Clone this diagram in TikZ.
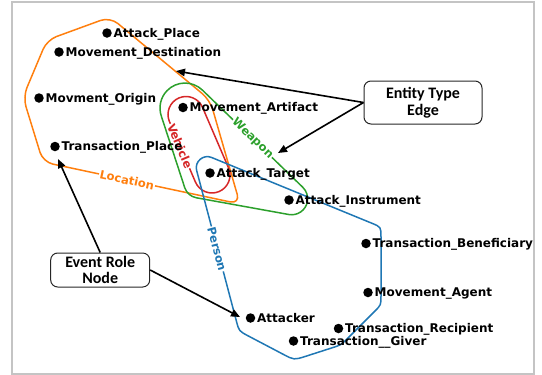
\documentclass[tikz,border=0pt]{standalone}
\usepackage{fontspec}
\setmainfont{DejaVu Sans}
\newfontfamily\boxfont{Carlito}
\usetikzlibrary{arrows.meta,calc}

\definecolor{tabblue}{HTML}{1F77B4}
\definecolor{taborange}{HTML}{FF7F0E}
\definecolor{tabgreen}{HTML}{2CA02C}
\definecolor{tabred}{HTML}{D62728}
\definecolor{framegray}{HTML}{C4C4C4}

\begin{document}
\begin{tikzpicture}[x=1pt,y=-1pt,
  role/.style={circle,fill=black,inner sep=0pt,minimum size=9.5pt},
  rolelabel/.style={anchor=base west,inner sep=0pt,font=\bfseries\fontsize{12}{13}\selectfont},
  group/.style={line width=1.5pt,line join=round},
  grouplabel/.style={fill=white,inner sep=0.8pt,font=\bfseries\fontsize{11.5}{12}\selectfont},
  callout/.style={draw=black!85,line width=1pt,rounded corners=7pt,align=center,inner sep=1pt,
    font=\boxfont\bfseries\fontsize{16}{16.5}\selectfont},
  pointer/.style={line width=1.6pt,-{Triangle[length=9pt,width=7.5pt]}}
]
\useasboundingbox (0,0) rectangle (542,375);
\draw[framegray,line width=1.3pt] (12,2) rectangle (534,374);

% Location group
\draw[group,taborange,rounded corners=10pt]
  (43,162) -- (23,97) -- (47,40) -- (110,17) -- (210,100) -- (240,204) -- cycle;
\node[grouplabel,text=taborange,rotate=-12] (loc) at (127,180) {Location};

% Weapon group (arc angles are page angles, y up)
\draw[group,tabgreen] (202.3,90) arc[start angle=46.2, end angle=198.2, radius=25pt]
  -- (184.75,187.7) arc[start angle=-161.8, end angle=-100.2, radius=15pt]
  -- (288.8,214.5) arc[start angle=-100.2, end angle=46.2, radius=16pt] -- cycle;
\node[grouplabel,text=tabgreen,rotate=-44] (wpn) at (252.5,138.5) {Weapon};

% Vehicle group: capsule around two centres, radius 18
\draw[group,tabred] (202.54,107.39) -- (228.54,167.89) arc[start angle=23.25, end angle=-156.75, radius=18pt]
  -- (169.46,121.61) arc[start angle=-156.75, end angle=-336.75, radius=18pt] -- cycle;
\node[grouplabel,text=tabred,rotate=-67] (veh) at (180,146) {Vehicle};

% Person group
\draw[group,tabblue] (211.4,157.4) -- (371.75,223.2) .. controls (381,227) .. (381,237)
  -- (381,296) .. controls (381,305) .. (374.6,311.4)
  -- (348.1,337.9) .. controls (341,345) .. (331.5,348)
  -- (305.4,356.4) .. controls (294,360) .. (283.4,354.4)
  -- (247.8,335.7) .. controls (239,331) .. (236.45,321.3)
  -- (196.6,170.3) .. controls (194.4,161.8) and (203.2,154) .. cycle;
\node[grouplabel,text=tabblue,rotate=-75] (per) at (217,249) {Person};

% role nodes
\node[role] (ap)  at (107,33)  {};
\node[role] (md)  at (59,52)   {};
\node[role] (mo)  at (39,98)   {};
\node[role] (tp)  at (55,146.5){};
\node[role] (ma)  at (183,107.5){};
\node[role] (at)  at (210,173) {};
\node[role] (ai)  at (289,200) {};
\node[role] (tb)  at (366,243.5){};
\node[role] (mag) at (368,292.5){};
\node[role] (tr)  at (338.5,328.5){};
\node[role] (tg)  at (293.5,341){};
\node[role] (atk) at (250.5,318){};

\node[rolelabel] (apl)  at ([shift={(6.5,4.4)}]ap.center)  {Attack\_Place};
\node[rolelabel] (mdl)  at ([shift={(6.5,4.4)}]md.center)  {Movement\_Destination};
\node[rolelabel] (mol)  at ([shift={(6.5,4.4)}]mo.center)  {Movment\_Origin};
\node[rolelabel] (tpl)  at ([shift={(6.5,4.4)}]tp.center)  {Transaction\_Place};
\node[rolelabel] (mal)  at ([shift={(6.5,4.4)}]ma.center)  {Movement\_Artifact};
\node[rolelabel] (atl)  at ([shift={(6.5,4.4)}]at.center)  {Attack\_Target};
\node[rolelabel] (ail)  at ([shift={(6.5,4.4)}]ai.center)  {Attack\_Instrument};
\node[rolelabel] (tbl)  at ([shift={(6.5,4.4)}]tb.center)  {Transaction\_Beneficiary};
\node[rolelabel] (magl) at ([shift={(6.5,4.4)}]mag.center) {Movement\_Agent};
\node[rolelabel] (trl)  at ([shift={(6.5,4.4)}]tr.center)  {Transaction\_Recipient};
\node[rolelabel] (tgl)  at ([shift={(6.5,4.4)}]tg.center)  {Transaction\_\_Giver};
\node[rolelabel] (atkl) at ([shift={(6.5,4.4)}]atk.center) {Attacker};

% callouts
\node[callout,minimum width=118pt,minimum height=43pt] (ent) at (423,102.5) {Entity Type\\Edge};
\node[callout,minimum width=99pt,minimum height=34pt] (evt) at (100.2,270) {Event Role\\Node};

\coordinate (tipA) at (176,71);
\coordinate (tipB) at (278,153);
\coordinate (tipC) at (58,159);
\coordinate (tipD) at (240,317);
\draw[pointer] (ent.west) -- (tipA);
\draw[pointer] (ent.west) -- (tipB);
\draw[pointer] (evt.north) -- (tipC);
\draw[pointer] (evt.east) -- (tipD);
\end{tikzpicture}
\end{document}
